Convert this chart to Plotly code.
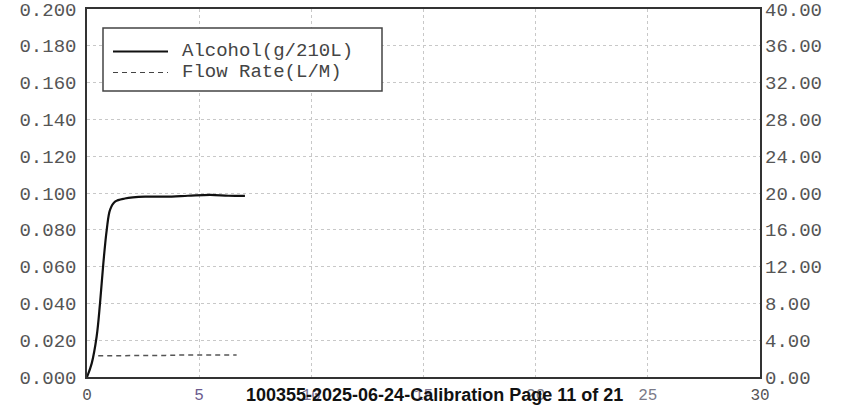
import plotly.graph_objects as go

# Data
alc_t = [0, 0.21, 0.43, 0.58, 0.73, 0.88, 1.03, 1.25, 1.69, 2.59, 3.5, 4.5, 5.5, 6.3, 7.04]
alc_v = [0, 0.0074, 0.022, 0.040, 0.062, 0.080, 0.091, 0.0953, 0.097, 0.098, 0.098, 0.0985, 0.099, 0.0985, 0.0984]
flow_t = [0.5, 1.5, 2.5, 3.5, 4.5, 5.5, 6.67]
flow_v = [2.3, 2.3, 2.35, 2.35, 2.4, 2.4, 2.4]

x_ticks = [0, 5, 10, 15, 20, 25, 30]
x_tick_text = ["0", "<span style='color:#6b5a8e'>5</span>",
               "<span style='color:#7a6f90'>10</span>", "<span style='color:#7a6f90'>15</span>",
               "<span style='color:#7a7a88'>20</span>", "<span style='color:#7a7a88'>25</span>", "30"]
left_ticks = [0.0, 0.02, 0.04, 0.06, 0.08, 0.10, 0.12, 0.14, 0.16, 0.18, 0.20]
right_ticks = [0, 4, 8, 12, 16, 20, 24, 28, 32, 36, 40]
legend_names = ["Alcohol(g/210L)", "Flow Rate(L/M)"]
footer = "100355-2025-06-24-Calibration Page 11 of 21"

MONO = "Liberation Mono"
TICK_COLOR = "#555555"
FS = 19

W, H = 848, 405
L, R, T, B = 87, 848 - 760, 9, 405 - 377

fig = go.Figure()
fig.add_trace(go.Scatter(x=alc_t, y=alc_v, mode="lines", name=legend_names[0],
                         line=dict(color="#111111", width=2.2), line_shape="spline",
                         yaxis="y", showlegend=False))
fig.add_trace(go.Scatter(x=flow_t, y=flow_v, mode="lines", name=legend_names[1],
                         line=dict(color="#555555", width=1.5, dash="5px,4px"),
                         yaxis="y2", showlegend=False))

fig.update_layout(
    width=W, height=H,
    margin=dict(l=L, r=R, t=T, b=B, autoexpand=False),
    paper_bgcolor="white", plot_bgcolor="white",
    xaxis=dict(range=[0, 30], tickvals=x_ticks, ticktext=x_tick_text, automargin=False,
               showgrid=True, gridcolor="#c8c8c8", griddash="dot", gridwidth=1,
               showline=True, linecolor="#333333", linewidth=1.5, mirror=True,
               zeroline=False, ticks="", ticklabelstandoff=2, ticklabeloverflow="allow",
               tickfont=dict(family=MONO, size=16, color=TICK_COLOR)),
    yaxis=dict(range=[0, 0.2], tickvals=left_ticks, tickformat=".3f", automargin=False,
               showgrid=True, gridcolor="#c8c8c8", griddash="dot", gridwidth=1,
               showline=True, linecolor="#333333", linewidth=1.5, mirror=True,
               zeroline=False, ticks="", ticklabelstandoff=5, ticklabeloverflow="allow",
               tickfont=dict(family=MONO, size=FS, color=TICK_COLOR)),
    yaxis2=dict(range=[0, 40], tickvals=right_ticks, tickformat=".2f", automargin=False,
                overlaying="y", side="right", showgrid=False, zeroline=False,
                showline=False, ticks="", ticklabelstandoff=4, ticklabeloverflow="allow",
                tickfont=dict(family=MONO, size=FS, color=TICK_COLOR)),
)

def px(xp):
    return (xp - L) / (W - L - R)

def py(yp):
    return (H - B - yp) / (H - B - T)

shapes = [
    dict(type="rect", xref="paper", yref="paper", x0=px(103), x1=px(382), y0=py(91), y1=py(28),
         line=dict(color="#444444", width=1.5), fillcolor="white", layer="above"),
    dict(type="line", xref="paper", yref="paper", x0=px(113), x1=px(168), y0=py(51.5), y1=py(51.5),
         line=dict(color="#111111", width=1.8), layer="above"),
    dict(type="line", xref="paper", yref="paper", x0=px(113), x1=px(168), y0=py(72.5), y1=py(72.5),
         line=dict(color="#444444", width=1.2, dash="5px,4px"), layer="above"),
]
fig.update_layout(shapes=shapes)

annotations = [
    dict(text=legend_names[0], xref="paper", yref="paper", x=px(180), y=py(51.5),
         xanchor="left", yanchor="middle", showarrow=False,
         font=dict(family=MONO, size=FS, color="#444444")),
    dict(text=legend_names[1], xref="paper", yref="paper", x=px(180), y=py(72.5),
         xanchor="left", yanchor="middle", showarrow=False,
         font=dict(family=MONO, size=FS, color="#444444")),
    dict(text="<b>" + footer + "</b>", xref="paper", yref="paper", x=px(434.5), y=py(383),
         xanchor="center", yanchor="top", showarrow=False,
         font=dict(family="Liberation Sans", size=18, color="#111111")),
]
fig.update_layout(annotations=annotations)

fig.write_html("out.html", config={"displayModeBar": False},
               post_script="document.body.style.margin='0';")
